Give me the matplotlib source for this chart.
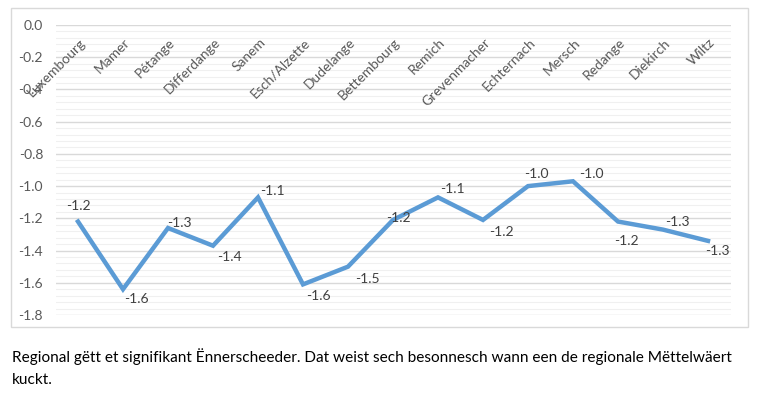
import matplotlib
matplotlib.use("Agg")
import matplotlib.pyplot as plt
from matplotlib.patches import Rectangle
from matplotlib.ticker import MultipleLocator, FormatStrFormatter
from matplotlib import font_manager

cities = ["Luxembourg", "Mamer", "Pétange", "Differdange", "Sanem", "Esch/Alzette",
          "Dudelange", "Bettembourg", "Remich", "Grevenmacher", "Echternach",
          "Mersch", "Redange", "Diekirch", "Wiltz"]
values = [-1.22, -1.64, -1.26, -1.37, -1.07, -1.61, -1.50, -1.21, -1.07, -1.21,
          -1.00, -0.97, -1.22, -1.27, -1.34]
caption = ("Regional gëtt et signifikant Ënnerscheeder. Dat weist sech besonnesch wann een de regionale Mëttelwäert\n"
           "kuckt.")

# label offsets in pixels (dx, dy) relative to each point
label_offsets = [(0, 16), (13, -10), (11, 5), (16, -11), (14, 6), (15, -12),
                 (19, -12), (5, 2), (14, 8), (18, -12), (8, 12), (18, 7),
                 (8, -19), (14, 8), (9, -10)]

names = {f.name for f in font_manager.fontManager.ttflist}
base_font = "Lato" if "Lato" in names else "DejaVu Sans"
cap_font = "Liberation Sans Narrow" if "Liberation Sans Narrow" in names else base_font

W, H = 763, 395
fig = plt.figure(figsize=(W / 100, H / 100), dpi=100)
fig.patch.set_facecolor("white")

# chart border
fig.patches.append(Rectangle((11 / W, 1 - 327 / H), (748 - 11) / W, (327 - 8) / H,
                             transform=fig.transFigure, fill=False,
                             edgecolor="#D9D9D9", linewidth=1.0))

ax = fig.add_axes([55.5 / W, 1 - 315 / H, (730.5 - 55.5) / W, (315 - 25) / H])
x = list(range(len(cities)))
ax.plot(x, values, color="#5B9BD5", linewidth=3.2, solid_joinstyle="miter", zorder=3)
ax.set_xlim(-0.5, len(cities) - 0.5)
ax.set_ylim(-1.8, 0.0)

ax.yaxis.set_major_locator(MultipleLocator(0.2))
ax.yaxis.set_minor_locator(MultipleLocator(0.04))
ax.yaxis.set_major_formatter(FormatStrFormatter("%.1f"))
ax.grid(which="major", axis="y", color="#D9D9D9", linewidth=1.0, zorder=0)
ax.grid(which="minor", axis="y", color="#F0F0F0", linewidth=0.8, zorder=0)
ax.set_axisbelow(True)
for s in ax.spines.values():
    s.set_visible(False)
ax.set_xticks([])
ax.tick_params(axis="y", which="both", length=0, pad=9, labelsize=10,
               labelcolor="#595959")
for lab in ax.get_yticklabels():
    lab.set_fontfamily(base_font)

# category labels hanging below the 0 line
for xi, name in zip(x, cities):
    ax.text(xi + 0.02, -0.07, name, rotation=45, rotation_mode="anchor",
            ha="right", va="top", fontsize=10, color="#595959", family=base_font)

# data labels
for xi, v, (dx, dy) in zip(x, values, label_offsets):
    ax.annotate(f"{v:.1f}", (xi, v), xytext=(dx * 0.72, dy * 0.72),
                textcoords="offset points", ha="center", va="center",
                fontsize=10, color="#404040", family=base_font)

lines = caption.split("\n")
fig.text(12 / W, 1 - 357 / H, lines[0], ha="left", va="center",
         fontsize=11.1, color="black", family=cap_font)
fig.text(12 / W, 1 - 380 / H, lines[1], ha="left", va="center",
         fontsize=11.1, color="black", family=cap_font)

fig.savefig("out.png", dpi=100, facecolor="white")
